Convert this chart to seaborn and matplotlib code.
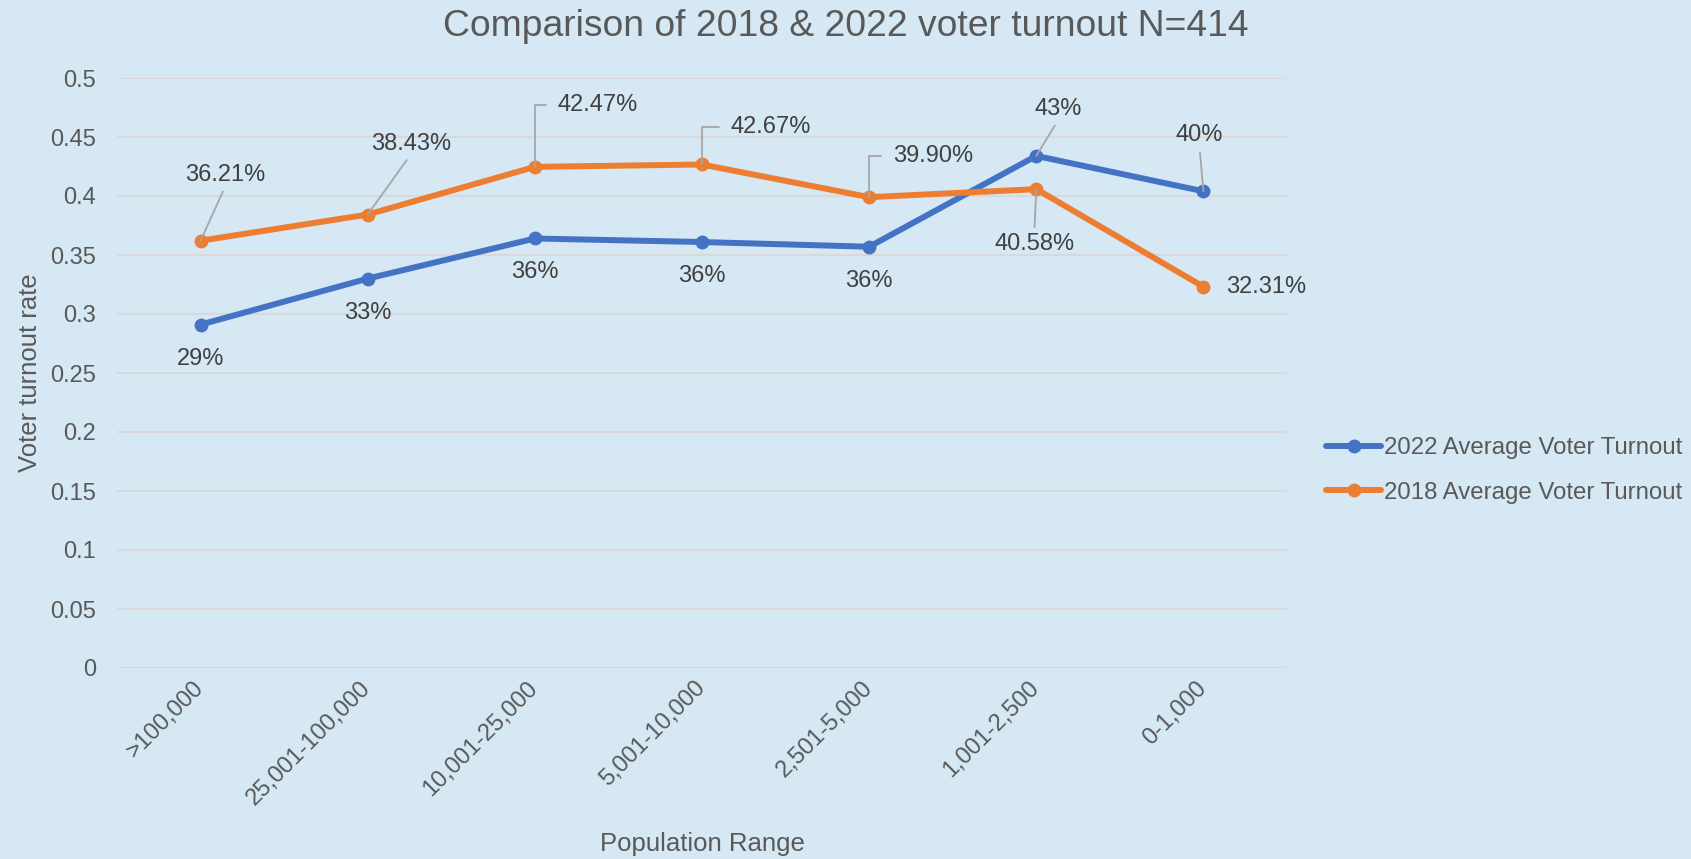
import pandas as pd
import matplotlib
matplotlib.use("Agg")
import matplotlib.pyplot as plt
import seaborn as sns

# ===================== data =====================
pop_ranges = [">100,000", "25,001-100,000", "10,001-25,000", "5,001-10,000",
              "2,501-5,000", "1,001-2,500", "0-1,000"]
turnout_2022 = [0.291, 0.330, 0.364, 0.361, 0.357, 0.434, 0.404]
turnout_2018 = [0.3621, 0.3843, 0.4247, 0.4267, 0.3990, 0.4058, 0.3231]
series_names = ["2022 Average Voter Turnout", "2018 Average Voter Turnout"]

df = pd.DataFrame({
    "Population Range": pop_ranges * 2,
    "rate": turnout_2022 + turnout_2018,
    "series": [series_names[0]] * 7 + [series_names[1]] * 7,
})

# ===================== style =====================
BG = "#D5E8F3"
BLUE = "#4472C4"
ORANGE = "#ED7D31"
GREY_TXT = "#595959"
LABEL_TXT = "#404040"
LEADER = "#A6A6A6"

sns.set_theme(style="white")
plt.rcParams["font.family"] = ["Liberation Sans", "DejaVu Sans"]

fig = plt.figure(figsize=(16.91, 8.59), dpi=100, facecolor=BG)
ax = fig.add_axes([117 / 1691, 191 / 859, 1170 / 1691, 590 / 859])
ax.set_facecolor(BG)

sns.lineplot(data=df, x="Population Range", y="rate", hue="series",
             hue_order=series_names, palette=[BLUE, ORANGE], sort=False,
             marker="o", markersize=10, markeredgewidth=0, linewidth=4.3,
             ax=ax, zorder=3)

ax.set_ylim(0, 0.5)
ax.set_xlim(-0.5, 6.5)
ax.set_yticks([i * 0.05 for i in range(11)])
ax.set_yticklabels(["0", "0.05", "0.1", "0.15", "0.2", "0.25", "0.3",
                    "0.35", "0.4", "0.45", "0.5"])
ax.yaxis.grid(True, color="#D9D9D9", linewidth=1.5)
ax.set_axisbelow(True)
for s in ax.spines.values():
    s.set_visible(False)

ax.tick_params(axis="y", length=0, pad=15, labelsize=17, labelcolor=GREY_TXT)
ax.tick_params(axis="x", length=0, pad=12, labelsize=17, labelcolor=GREY_TXT)
plt.setp(ax.get_xticklabels(), rotation=45, ha="right", va="center",
         rotation_mode="anchor")

ax.set_xlabel("Population Range", fontsize=18.5, color=GREY_TXT, va="center")
ax.xaxis.set_label_coords(0.5, -176 / 590)
ax.set_ylabel("Voter turnout rate", fontsize=18.5, color=GREY_TXT, va="center")
ax.yaxis.set_label_coords(-87 / 1170, 0.5)

fig.text(0.5, 1 - 27 / 859, "Comparison of 2018 & 2022 voter turnout N=414",
         ha="center", va="center", fontsize=26.8, color=GREY_TXT)

# ===================== data labels =====================
# (dx, dy) in pixels, leader style: None / "line" / "elbow"
offs_2018 = [(25, 66, "line"), (43, 71, "line"), (63, 62, "elbow"),
             (69, 37, "elbow"), (64, 41, "elbow"), (-2, -55, "line"),
             (63, 0, None)]
offs_2022 = [(0, -34, None)] * 5 + [(22, 47, "line"), (-4, 56, "line")]


def put_labels(vals, offs, fmt):
    for i, (v, (dx, dy, kind)) in enumerate(zip(vals, offs)):
        kw = dict(textcoords="offset pixels", xytext=(dx, dy), ha="center",
                  va="center", fontsize=17, color=LABEL_TXT, zorder=5)
        if kind == "line":
            rel = (0.5, 0) if dy > 0 else (0.5, 1)
            kw["arrowprops"] = dict(arrowstyle="-", color=LEADER, lw=1.3,
                                    shrinkA=2, shrinkB=0, relpos=rel)
        elif kind == "elbow":
            kw["arrowprops"] = dict(arrowstyle="-", color=LEADER, lw=1.3,
                                    shrinkA=6, shrinkB=0, relpos=(0, 0.5),
                                    connectionstyle="angle,angleA=0,angleB=90,rad=0")
        ax.annotate(fmt(v), xy=(i, v), **kw)


put_labels(turnout_2018, offs_2018, lambda v: f"{v * 100:.2f}%")
put_labels(turnout_2022, offs_2022, lambda v: f"{v * 100:.0f}%")

# ===================== legend =====================
ax.get_legend().remove()
handles = ax.get_lines()[:2]
fig.legend(handles, series_names, loc="center left",
           bbox_to_anchor=(1326 / 1691, 1 - 470.5 / 859),
           bbox_transform=fig.transFigure, frameon=False, fontsize=17.3,
           labelcolor=GREY_TXT, handlelength=2.3, handletextpad=0.12,
           labelspacing=0.92, borderpad=0, borderaxespad=0)

fig.savefig("out.png", dpi=100, facecolor=BG)
